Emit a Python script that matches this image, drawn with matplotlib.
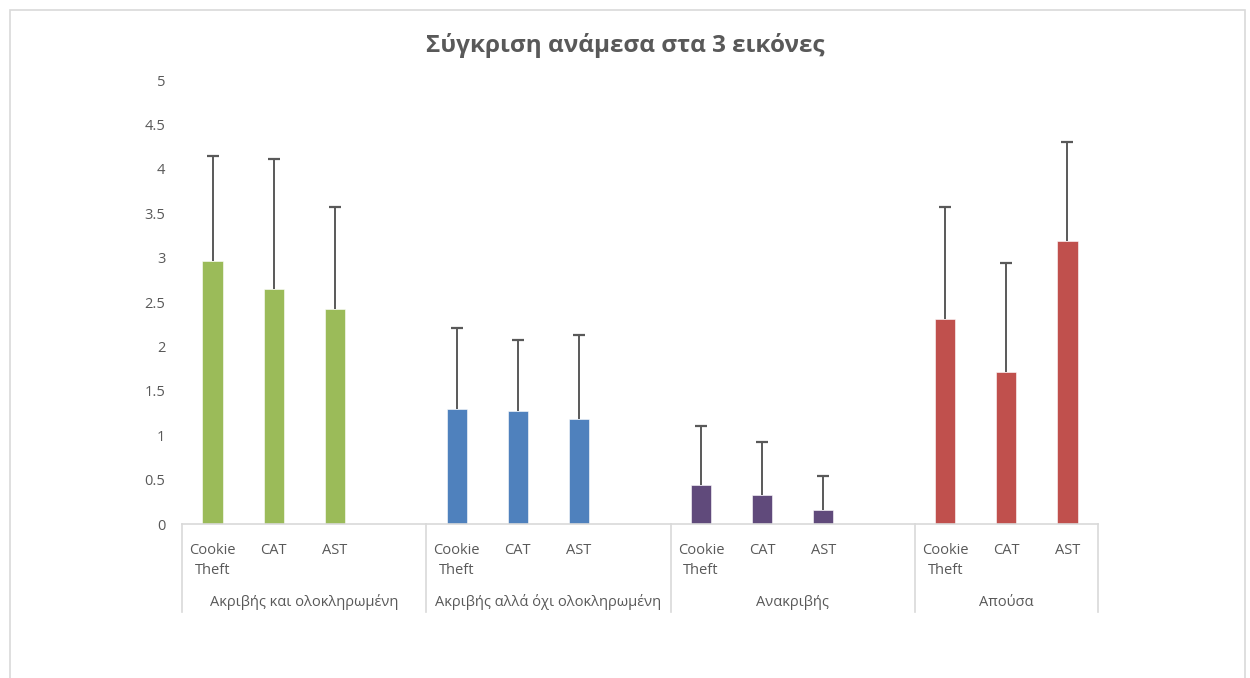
import matplotlib.pyplot as plt
from matplotlib.patches import Rectangle
import matplotlib.transforms as mtransforms

plt.rcParams['font.family'] = ['Open Sans', 'DejaVu Sans']

title = 'Σύγκριση ανάμεσα στα 3 εικόνες'
groups = ['Ακριβής και ολοκληρωμένη', 'Ακριβής αλλά όχι ολοκληρωμένη', 'Ανακριβής', 'Απούσα']
images = ['Cookie\nTheft', 'CAT', 'AST']
colors = ['#9BBB59', '#4F81BD', '#604A7B', '#C0504D']

# means and upper error (end of whisker)
means_acc_full = [2.96, 2.65, 2.42]
means_acc_part = [1.29, 1.27, 1.18]
means_inacc = [0.44, 0.33, 0.16]
means_absent = [2.31, 1.71, 3.19]
top_acc_full = [4.14, 4.11, 3.57]
top_acc_part = [2.21, 2.07, 2.13]
top_inacc = [1.10, 0.92, 0.54]
top_absent = [3.57, 2.94, 4.30]

means = [means_acc_full, means_acc_part, means_inacc, means_absent]
tops = [top_acc_full, top_acc_part, top_inacc, top_absent]
yticks = [0, 0.5, 1, 1.5, 2, 2.5, 3, 3.5, 4, 4.5, 5]
ytick_labels = ['0', '0.5', '1', '1.5', '2', '2.5', '3', '3.5', '4', '4.5', '5']

fig = plt.figure(figsize=(12.5, 6.78), dpi=100)
ax = fig.add_axes([0.1456, 0.2271, 0.7328, 0.6549])

grey = '#595959'
xs_all, labels_all = [], []
for g in range(len(groups)):
    xs = [g * 4 + i for i in range(3)]
    ax.bar(xs, means[g], width=0.33, color=colors[g], edgecolor='white', linewidth=0.4, zorder=2)
    # only the upper half of the error bar, like Excel "plus" direction
    ax.vlines(xs, means[g], tops[g], color=grey, lw=1.4, zorder=3)
    ax.plot(xs, tops[g], ls='none', marker='_', ms=8, mew=1.6, color=grey, zorder=3)
    xs_all += xs
    labels_all += images

n_slots = len(groups) * 4 - 1
ax.set_xlim(-0.5, n_slots - 0.5)
ax.set_ylim(0, 5)
ax.set_yticks(yticks)
ax.set_yticklabels(ytick_labels)
ax.set_xticks(xs_all)
ax.set_xticklabels(labels_all, linespacing=1.45)
ax.tick_params(axis='both', length=0, colors=grey, labelsize=10.5)
ax.tick_params(axis='x', pad=14)
ax.tick_params(axis='y', pad=12)
for s in ['top', 'right', 'left']:
    ax.spines[s].set_visible(False)
ax.spines['bottom'].set_color('#D9D9D9')
ax.spines['bottom'].set_linewidth(1.2)

# multi-level category axis: separators and group labels
trans = mtransforms.blended_transform_factory(ax.transData, ax.transAxes)
bounds = [g * 4 - 0.5 for g in range(len(groups))] + [n_slots - 0.5]
for b in bounds:
    ax.plot([b, b], [0, -0.198], color='#D9D9D9', lw=1.2, transform=trans, clip_on=False)
for g, name in enumerate(groups):
    mid = (bounds[g] + bounds[g + 1]) / 2
    ax.text(mid, -0.176, name, transform=trans, ha='center', va='center',
            fontsize=10.5, color=grey)

fig.text(0.5, 0.933, title, ha='center', va='center', fontsize=17.5,
         fontweight='bold', color=grey)

# chart frame
fig.patches.append(Rectangle((0.008, -0.05), 0.988, 1.035, transform=fig.transFigure,
                             fill=False, edgecolor='#D9D9D9', lw=1.2))

fig.savefig('out.png', dpi=100)
